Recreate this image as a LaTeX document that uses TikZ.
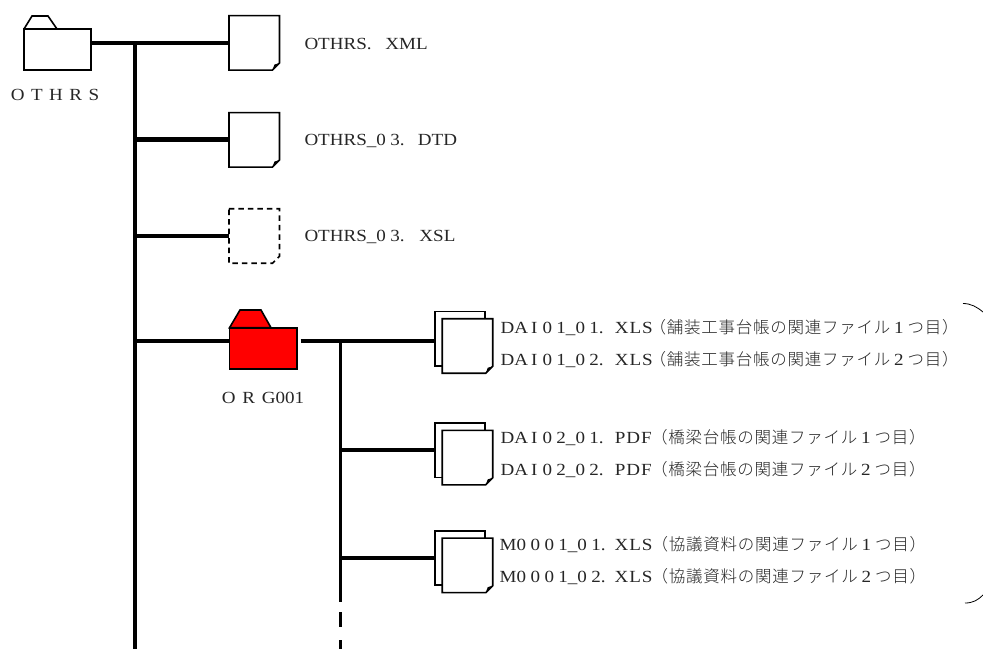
\documentclass[tikz,border=0pt]{standalone}
\usepackage{fontspec}
\setmainfont[FakeStretch=1.12]{Liberation Serif}
\newfontfamily\lat[FakeStretch=1.12,LetterSpace=5]{Liberation Serif}
\newfontfamily\dgt[FakeStretch=1.12,LetterSpace=26]{Liberation Serif}
\newfontfamily\wide[FakeStretch=1.12,LetterSpace=38]{Liberation Serif}
\newfontfamily\wider[FakeStretch=1.12,LetterSpace=40]{Liberation Serif}
\newfontfamily\jp[LetterSpace=4.5]{Noto Sans CJK JP Light}
\newcommand{\jps}[1]{{\fontsize{16.5}{18}\jp #1}}
\newcommand{\dg}[1]{\makebox[17.2pt]{#1}}
\newcommand{\tailjp}[3]{\jps{#1}\dg{#2}\jps{#3}}
\newcommand{\daiN}[2]{DA\hspace{3pt}I\hspace{5pt}{\dgt #1}\_{\dgt #2}.}
\tikzset{
  x=1pt,y=-1pt,
  txt/.style={anchor=base west,inner sep=0,outer sep=0,text=black!85,font=\fontsize{17}{20}\selectfont},
  lab/.style={anchor=base,inner sep=0,outer sep=0,text=black!85,font=\fontsize{17}{20}\selectfont},
  docbox/.style={rectangle,inner sep=0,outer sep=0,minimum width=50.5pt,minimum height=54.5pt},
  backbox/.style={rectangle,inner sep=0,outer sep=0,minimum width=50pt,minimum height=54.5pt},
  fbody/.style={rectangle,inner sep=0,outer sep=0,draw=black,line width=1.6pt},
  pageline/.style={draw=black,line width=1.6pt,line join=miter,fill=white},
  trunk/.style={line width=4pt,draw=black},
  branch/.style={line width=4.2pt,draw=black},
  subtrunk/.style={line width=3.6pt,draw=black},
}
\newcommand{\docshape}[2][]{%
  \draw[pageline,#1] (#2.north west) -- (#2.north east) -- ([yshift=7]#2.south east) -- ([xshift=-7]#2.south east) -- (#2.south west) -- cycle;%
}
\newcommand{\docfold}[1]{%
  \fill[black] ([yshift=7]#1.south east) -- ([xshift=-5,yshift=5.5]#1.south east) -- ([xshift=-7]#1.south east) -- cycle;%
}
\begin{document}
\begin{tikzpicture}
\useasboundingbox (0,0) rectangle (983,649);
\fill[white] (0,0) rectangle (983,649);
% junctions
\coordinate (j1) at (134.5,43);
\coordinate (j2) at (134.5,139.5);
\coordinate (j3) at (134.5,236);
\coordinate (j4) at (134.5,341.3);
\coordinate (tb) at (134.5,649);
\coordinate (k1) at (340.3,341.3);
\coordinate (k2) at (340.3,450);
\coordinate (k3) at (340.3,558.3);
\coordinate (ke) at (340.3,602);
\coordinate (d1a) at (340.3,612);
\coordinate (d1b) at (340.3,627);
\coordinate (d2a) at (340.3,640);
\coordinate (d2b) at (340.3,649);
% folder OTHRS
\node[fbody,minimum width=67pt,minimum height=41pt,fill=white] (othrs) at (57.5,49.5) {};
\draw[line width=1.6pt,line join=miter] (othrs.north west) -- (32,16) -- (48,16) -- (57,29);
\node[lab] (othrslab) at (55,100.5) {{\wide OTHRS}};
% docs
\node[docbox] (f1) at (254.2,42.8) {};
\node[docbox] (f2) at (254.2,139.8) {};
\node[docbox] (f3) at (254.2,236) {};
\draw[trunk] (j1) -- (tb);
\draw[branch] (othrs.east |- j1) -- (f1.west |- j1);
\draw[branch] (j2) -- (f2.west |- j2);
\draw[branch] (j3) -- (f3.west |- j3);
\docshape{f1}\docfold{f1}
\docshape{f2}\docfold{f2}
\docshape[dash pattern=on 5.5pt off 4pt,fill=none]{f3}
\node[txt] (t1) at (304.5,49) {\makebox[81pt][l]{OTHRS.}XML};
\node[txt] (t2) at (304.5,145) {\makebox[113.5pt][l]{OTHRS\_{\dgt 03}.}DTD};
\node[txt] (t3) at (304.5,241.5) {\makebox[115pt][l]{OTHRS\_{\dgt 03}.}XSL};
% red folder
\node[fbody,minimum width=67.2pt,minimum height=41.3pt,fill=red] (org) at (263.1,348.4) {};
\fill[red,draw=black,line width=1.6pt,line join=miter] (org.north west) -- (240,310) -- (261,310) -- (271,327.7) -- cycle;
\coordinate (orgr) at (300.5,341.3);
\draw[branch] (j4) -- (org.west |- j4);
\draw[branch] (orgr) -- (k1);
\node[lab] (orglab) at (263,403) {{\wider ORG}001};
% stacks
\node[backbox] (b1) at (460.2,338.6) {};
\node[docbox] (c1) at (467.5,346) {};
\node[backbox] (b2) at (460.2,450.2) {};
\node[docbox] (c2) at (467.5,457.6) {};
\node[backbox] (b3) at (460.2,558) {};
\node[docbox] (c3) at (467.5,565.4) {};
\draw[branch] (k1) -- (b1.west |- k1);
\draw[branch] (k2) -- (b2.west |- k2);
\draw[branch] (k3) -- (b3.west |- k3);
\draw[subtrunk] (k1) -- (ke);
\draw[subtrunk] (d1a) -- (d1b);
\draw[subtrunk] (d2a) -- (d2b);
\foreach \b/\c in {b1/c1,b2/c2,b3/c3}{
  \draw[pageline] (\b.north west) rectangle (\b.south east);
  \docshape{\c}\docfold{\c}
}
% text
\node[txt] (a1) at (500.7,333.3) {\makebox[149pt][l]{\makebox[114.3pt][l]{\daiN{01}{01}}{\lat XLS}}\tailjp{（舗装工事台帳の関連ファイル}{1}{つ目）}};
\node[txt] (a2) at (500.7,365) {\makebox[149pt][l]{\makebox[114.3pt][l]{\daiN{01}{02}}{\lat XLS}}\tailjp{（舗装工事台帳の関連ファイル}{2}{つ目）}};
\node[txt] (a3) at (500.7,443.3) {\makebox[150.5pt][l]{\makebox[114.3pt][l]{\daiN{02}{01}}{\lat PDF}}\tailjp{（橋梁台帳の関連ファイル}{1}{つ目）}};
\node[txt] (a4) at (500.7,475) {\makebox[150.5pt][l]{\makebox[114.3pt][l]{\daiN{02}{02}}{\lat PDF}}\tailjp{（橋梁台帳の関連ファイル}{2}{つ目）}};
\node[txt] (a5) at (499.7,550.7) {\makebox[152pt][l]{\makebox[115pt][l]{M{\dgt 0001}\_{\dgt 01}.}{\lat XLS}}\tailjp{（協議資料の関連ファイル}{1}{つ目）}};
\node[txt] (a6) at (499.7,582.7) {\makebox[152pt][l]{\makebox[115pt][l]{M{\dgt 0001}\_{\dgt 02}.}{\lat XLS}}\tailjp{（協議資料の関連ファイル}{2}{つ目）}};
% brace ends
\draw[line width=0.8pt] (963,303.5) .. controls (971,303.5) and (977,307) .. (983,312);
\draw[line width=0.8pt] (965,603) .. controls (973,603) and (978,600) .. (983,595);
\end{tikzpicture}
\end{document}
